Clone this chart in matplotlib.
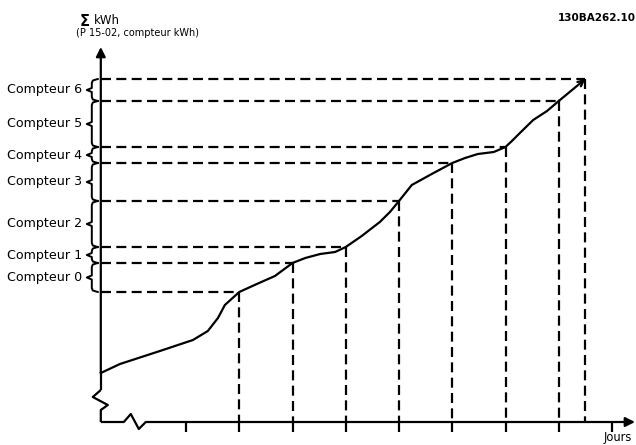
import matplotlib
matplotlib.use("Agg")
import matplotlib.pyplot as plt

# cumulative kWh curve (days, kWh)
curve_days = [-0.6, -0.24, 0.51, 1.13, 1.41, 1.6, 1.73, 2, 2.33, 2.67, 3, 3.24,
              3.52, 3.8, 4, 4.3, 4.64, 4.83, 5, 5.24, 5.58, 6, 6.24, 6.48,
              6.78, 7, 7.12, 7.27, 7.52, 7.78, 8, 8.5]
curve_kwh = [4.9, 5.8, 7.1, 8.2, 9.1, 10.4, 11.7, 13.0, 13.8, 14.6, 15.9, 16.4,
             16.8, 17.0, 17.5, 18.6, 20.0, 21.0, 22.1, 23.7, 24.7, 25.9, 26.4, 26.8,
             27.0, 27.5, 28.1, 28.9, 30.2, 31.1, 32.1, 34.3]

# counter readings taken on these days
reading_days = [2, 3, 4, 5, 6, 7, 8, 8.5]
reading_kwh = [13.0, 15.9, 17.5, 22.1, 25.9, 27.5, 32.1, 34.3]
counter_labels = ["Compteur 0", "Compteur 1", "Compteur 2", "Compteur 3",
                  "Compteur 4", "Compteur 5", "Compteur 6"]
tick_days = [1, 2, 3, 4, 5, 6, 7, 8, 9]

W, H = 636, 445
DAY_PX = 53.25   # pixels per day
KWH_PX = 10.0    # pixels per kWh unit
X0 = -0.6        # position of the vertical axis (days)


def px(dx):
    """horizontal pixel offset -> days"""
    return dx / DAY_PX


def py(dy):
    """vertical pixel offset -> kWh units"""
    return dy / KWH_PX


fig = plt.figure(figsize=(W / 100, H / 100), dpi=100)
ax = fig.add_axes([0, 0, 1, 1])
ax.set_xlim(1 - 186 / DAY_PX, 1 + (W - 186) / DAY_PX)
ax.set_ylim(-(H - 422) / KWH_PX, 422 / KWH_PX)
ax.axis("off")

lw = 1.6
dash = (4.5, 2.4)
kw = dict(color="black", lw=lw, solid_capstyle="butt", clip_on=False)

# vertical axis with break
y_top = reading_kwh[-1] + py(32)
ax.plot([X0, X0], [curve_kwh[0], py(32)], **kw)
ax.plot([X0, X0 - px(8), X0 + px(7), X0, X0],
        [py(32), py(25), py(17), py(12), 0], **kw)
ax.annotate("", xy=(X0, y_top), xytext=(X0, curve_kwh[0]),
            arrowprops=dict(arrowstyle="-|>", lw=lw, color="black",
                            mutation_scale=14, shrinkA=0, shrinkB=0))

# horizontal axis with break
ax.plot([X0, X0 + px(23), X0 + px(30), X0 + px(38), X0 + px(45)],
        [0, 0, py(8), py(-7), 0], **kw)
x_end = 1 + (635 - 186) / DAY_PX
ax.annotate("", xy=(x_end, 0), xytext=(X0 + px(45), 0),
            arrowprops=dict(arrowstyle="-|>", lw=lw, color="black",
                            mutation_scale=14, shrinkA=0, shrinkB=0))
for d in tick_days:
    ax.plot([d, d], [0, py(-10)], **kw)

# dashed guide lines for each reading
for d, v in zip(reading_days, reading_kwh):
    ax.plot([X0, d], [v, v], color="black", lw=lw, dashes=dash)
    ax.plot([d, d], [v, 0], color="black", lw=lw, dashes=dash)

# curve
ax.plot(curve_days[:-1], curve_kwh[:-1], color="black", lw=lw)
ax.annotate("", xy=(curve_days[-1], curve_kwh[-1]),
            xytext=(curve_days[-2], curve_kwh[-2]),
            arrowprops=dict(arrowstyle="->", lw=lw, color="black",
                            mutation_scale=10, shrinkA=0, shrinkB=0))

# braces with counter labels
bx = X0 - px(9)
for i, label in enumerate(counter_labels):
    lo, hi = reading_kwh[i], reading_kwh[i + 1]
    mid = (lo + hi) / 2
    xs = [X0 - px(3), bx + px(1), bx, bx, bx - px(5), bx, bx, bx + px(1), X0 - px(3)]
    ys = [lo, lo + py(1.5), lo + py(4), mid - py(2), mid, mid + py(2),
          hi - py(4), hi - py(1.5), hi]
    ax.plot(xs, ys, color="black", lw=1.4, clip_on=False)
    ax.text(bx - px(10), mid, label, ha="right", va="center",
            fontsize=9.1, family="DejaVu Sans")

fig.text(80 / W, 1 - 22 / H, "\u03A3", fontsize=10.5, fontweight="bold",
         ha="left", va="center")
fig.text(94 / W, 1 - 21 / H, "kWh", fontsize=8.5, ha="left", va="center")
fig.text(76 / W, 1 - 33 / H, "(P 15-02, compteur kWh)", fontsize=7,
         ha="left", va="center")
fig.text(636 / W, 1 - 18 / H, "130BA262.10", fontsize=7.5, fontweight="bold",
         ha="right", va="center", family=["Liberation Sans Narrow", "DejaVu Sans"])
fig.text(632 / W, 1 - 437 / H, "Jours", fontsize=8.3, ha="right", va="center")

fig.savefig("out.png", dpi=100, facecolor="white")
